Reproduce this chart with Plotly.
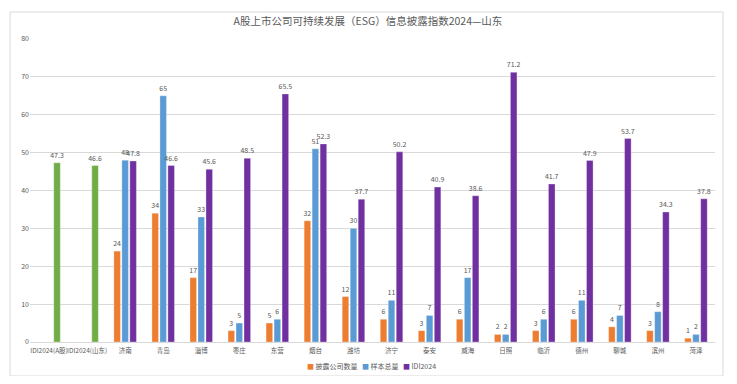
import plotly.graph_objects as go

categories = ["IDI2024(A股)", "IDI2024(山东)", "济南", "青岛", "淄博", "枣庄", "东营", "烟台",
              "潍坊", "济宁", "泰安", "威海", "日照", "临沂", "德州", "聊城", "滨州", "菏泽"]
disclosed = [None, None, 24, 34, 17, 3, 5, 32, 12, 6, 3, 6, 2, 3, 6, 4, 3, 1]
sample_total = [None, None, 48, 65, 33, 5, 6, 51, 30, 11, 7, 17, 2, 6, 11, 7, 8, 2]
idi2024 = [47.3, 46.6, 47.8, 46.6, 45.6, 48.5, 65.5, 52.3, 37.7, 50.2, 40.9, 38.6,
           71.2, 41.7, 47.9, 53.7, 34.3, 37.8]

series_names = ["披露公司数量", "样本总量", "IDI2024"]
title_text = "A股上市公司可持续发展（ESG）信息披露指数2024—山东"

ORANGE = "#ED7D31"
BLUE = "#5B9BD5"
PURPLE = "#7030A0"
GREEN = "#70AD47"
TXT = "#595959"
FONT = "Noto Sans CJK SC"

# the page body has an 8px margin; figure is sized so it fits the window
OFF = 8
W, H = 737 - 2 * OFF, 384 - 2 * OFF
PX0, PX1, PY0, PY1 = 30, 715, 39, 342   # plot area in window pixels
PW, PH = PX1 - PX0, PY1 - PY0

def fmt(v):
    if v is None:
        return ""
    return str(int(v)) if float(v).is_integer() else f"{v:.1f}"

def px(x):
    return (x - PX0) / PW

def py(y):
    return (PY1 - y) / PH

idi_colors = [GREEN if c.startswith("IDI2024") else PURPLE for c in categories]

fig = go.Figure()
for name, vals, color in [(series_names[0], disclosed, ORANGE),
                          (series_names[1], sample_total, BLUE),
                          (series_names[2], idi2024, idi_colors)]:
    fig.add_trace(go.Bar(
        x=categories, y=vals, name=name, showlegend=False,
        marker=dict(color=color, line=dict(color="rgba(255,255,255,0.6)", width=0.5)),
        text=[fmt(v) for v in vals], textposition="outside",
        textfont=dict(size=7, color=TXT, family=FONT),
        outsidetextfont=dict(size=7, color=TXT, family=FONT),
        constraintext="none", cliponaxis=False,
    ))

fig.update_layout(barmode="group")

fig.update_layout(
    width=W, height=H,
    margin=dict(l=PX0 - OFF, r=W - (PX1 - OFF), t=PY0 - OFF, b=H - (PY1 - OFF)),
    paper_bgcolor="white", plot_bgcolor="white",
    bargap=0.37, bargroupgap=0.18,
    font=dict(family=FONT, color=TXT, size=8),
    title=dict(text=title_text, x=(368 - OFF) / W, xref="container", xanchor="center",
               y=1 - (21 - OFF) / H, yanchor="middle",
               font=dict(size=10.5, color=TXT, family=FONT)),
    showlegend=False,
    xaxis=dict(tickfont=dict(size=6.5, color=TXT, family=FONT), showline=False,
               ticks="", showgrid=False, tickangle=0, ticklabelstandoff=3),
    yaxis=dict(range=[0, 80], dtick=10, tickfont=dict(size=7, color=TXT, family=FONT),
               showgrid=True, gridcolor="#d9d9d9", gridwidth=1, zeroline=True,
               zerolinecolor="#d9d9d9", zerolinewidth=1, showline=False, ticks=""),
)

# legend drawn as text entries with coloured squares
for name, color, lx in zip(series_names, [ORANGE, BLUE, PURPLE], [305, 360, 401]):
    fig.add_annotation(
        x=px(lx), y=py(366), xref="paper", yref="paper", xanchor="left", yanchor="middle",
        showarrow=False,
        text=f"<span style='color:{color};font-size:7px'>■</span> {name}",
        font=dict(size=7, color=TXT, family=FONT),
    )

fig.add_shape(type="rect", xref="paper", yref="paper",
              x0=px(10), x1=px(723), y0=py(376), y1=py(12),
              line=dict(color="#d9d9d9", width=1), fillcolor="rgba(0,0,0,0)", layer="below")

fig.write_html("out.html")
